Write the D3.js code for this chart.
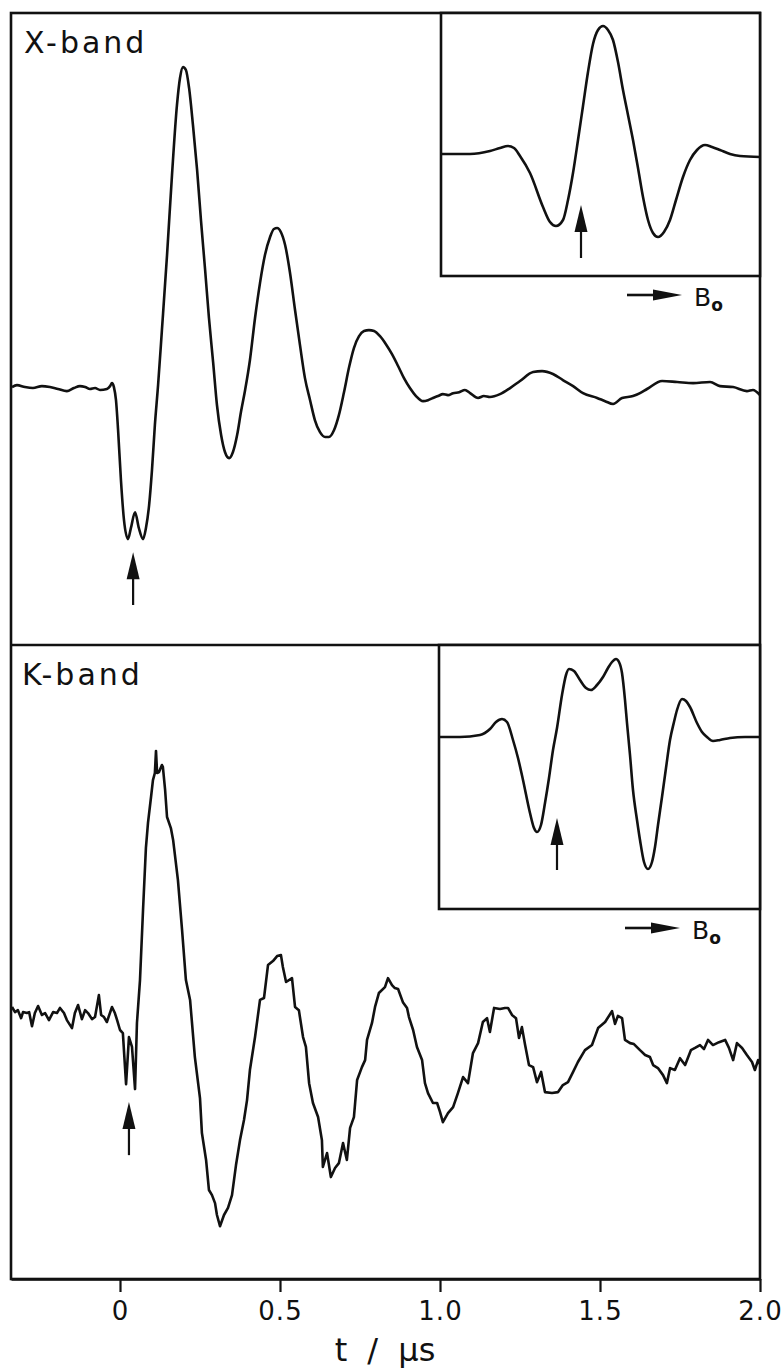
<!DOCTYPE html>
<html>
<head>
<meta charset="utf-8">
<script src="https://cdn.jsdelivr.net/npm/d3@7"></script>
<style>
  body { margin: 0; background: #fff; }
  svg { display: block; }
  text { font-family: "DejaVu Sans", sans-serif; fill: #111; }
</style>
</head>
<body>
<div id="chart"></div>
<script>
// time axis, µs
const xTicks = [0, 0.5, 1.0, 1.5, 2.0];
const panelLabels = ["X-band", "K-band"];

// echo traces [t (µs), signal (a.u.)]
const xbandTrace = [
  [-0.3375,0],[-0.322,0.006],[-0.297,0],[-0.272,-0.003],[-0.244,0.003],[-0.219,0],[-0.194,-0.006],
  [-0.166,-0.0125],[-0.144,-0.003],[-0.125,0.003],[-0.109,0],[-0.094,-0.006],[-0.078,-0.003],
  [-0.0625,-0.009],[-0.041,-0.006],[-0.031,0.003],[-0.025,0.0125],[-0.019,0],[-0.0125,-0.041],
  [-0.006,-0.134],[0.003,-0.291],[0.0125,-0.416],[0.025,-0.475],[0.034,-0.441],[0.047,-0.391],
  [0.059,-0.441],[0.072,-0.475],[0.081,-0.441],[0.091,-0.369],[0.1,-0.259],[0.109,-0.119],
  [0.119,0.006],[0.131,0.178],[0.147,0.4125],[0.1625,0.6625],[0.178,0.881],[0.1875,0.966],
  [0.197,1.0],[0.206,0.991],[0.216,0.934],[0.228,0.819],[0.241,0.678],[0.253,0.522],[0.266,0.366],
  [0.278,0.216],[0.291,0.078],[0.303,-0.056],[0.316,-0.15],[0.328,-0.203],[0.341,-0.222],
  [0.353,-0.203],[0.366,-0.15],[0.378,-0.078],[0.391,-0.009],[0.406,0.084],
  [0.422,0.216],[0.4375,0.325],[0.453,0.4125],[0.469,0.469],[0.481,0.494],[0.491,0.497],
  [0.503,0.484],[0.516,0.444],[0.531,0.359],[0.547,0.241],[0.5625,0.131],[0.578,0.028],
  [0.594,-0.041],[0.609,-0.103],[0.625,-0.141],[0.641,-0.156],[0.653,-0.156],[0.669,-0.134],
  [0.684,-0.0875],[0.7,-0.016],[0.716,0.0625],[0.731,0.122],[0.747,0.159],[0.7625,0.175],
  [0.778,0.178],[0.794,0.175],[0.8125,0.159],[0.831,0.134],[0.85,0.103],[0.869,0.066],
  [0.8875,0.028],[0.906,-0.003],[0.925,-0.028],[0.947,-0.044],[0.9625,-0.041],[0.978,-0.034],
  [0.994,-0.028],[1.009,-0.022],[1.025,-0.025],[1.041,-0.019],[1.06,-0.016],[1.078,-0.009],
  [1.094,-0.019],[1.119,-0.034],[1.137,-0.028],[1.156,-0.031],[1.1875,-0.022],[1.219,-0.003],
  [1.25,0.019],[1.291,0.047],[1.319,0.05],[1.353,0.041],[1.384,0.022],[1.416,0.003],[1.447,-0.019],
  [1.491,-0.034],[1.516,-0.044],[1.541,-0.053],[1.569,-0.034],[1.603,-0.028],[1.625,-0.019],
  [1.647,-0.006],[1.694,0.019],[1.741,0.016],[1.791,0.0125],[1.844,0.016],[1.875,0.003],
  [1.916,0],[1.959,-0.0125],[1.978,-0.009],[2.0,-0.025]
];

const kbandTrace = [
  [-0.3375,0.019],[-0.328,0.003],[-0.319,0.009],[-0.309,-0.016],[-0.303,0.003],[-0.291,0],[-0.284,0.003],
  [-0.275,-0.041],[-0.266,0],[-0.256,0.022],[-0.244,-0.006],[-0.234,0],[-0.222,-0.022],[-0.209,0.003],
  [-0.197,0],[-0.1875,0.016],[-0.175,0],[-0.166,-0.022],[-0.15,-0.047],[-0.141,0],[-0.131,0.025],
  [-0.119,-0.019],[-0.109,0.009],[-0.1,0],[-0.0875,-0.019],[-0.078,-0.0125],[-0.066,0.056],
  [-0.059,-0.006],[-0.05,-0.0125],[-0.041,-0.028],[-0.025,0.019],[-0.016,0],[-0.009,-0.022],
  [0,-0.053],[0.009,-0.0625],[0.019,-0.222],[0.028,-0.075],[0.0375,-0.106],[0.047,-0.2375],
  [0.053,-0.031],[0.0625,0.103],[0.072,0.322],[0.081,0.516],[0.0875,0.594],[0.097,0.675],
  [0.103,0.728],[0.109,0.75],[0.1125,0.819],[0.116,0.75],[0.122,0.753],[0.131,0.775],[0.134,0.769],
  [0.141,0.697],[0.147,0.6125],[0.159,0.578],[0.166,0.541],[0.169,0.516],[0.181,0.416],[0.194,0.259],
  [0.206,0.103],[0.219,0.041],[0.234,-0.1375],[0.25,-0.266],[0.256,-0.375],[0.269,-0.459],
  [0.278,-0.553],[0.2875,-0.569],[0.297,-0.594],[0.303,-0.631],[0.3125,-0.666],[0.325,-0.631],
  [0.3375,-0.609],[0.35,-0.569],[0.3625,-0.475],[0.375,-0.397],[0.3875,-0.334],[0.397,-0.272],
  [0.406,-0.178],[0.422,-0.075],[0.4375,0.041],[0.45,0.047],[0.4625,0.15],[0.478,0.1625],
  [0.491,0.178],[0.503,0.181],[0.509,0.144],[0.519,0.097],[0.5375,0.109],[0.547,0.019],
  [0.559,0.009],[0.572,-0.075],[0.581,-0.106],[0.591,-0.219],[0.603,-0.281],[0.619,-0.325],
  [0.631,-0.397],[0.634,-0.481],[0.647,-0.4375],[0.659,-0.5125],[0.672,-0.484],[0.684,-0.469],
  [0.697,-0.406],[0.709,-0.459],[0.719,-0.359],[0.731,-0.325],[0.741,-0.209],[0.756,-0.169],
  [0.766,-0.147],[0.772,-0.084],[0.7875,-0.031],[0.797,0.019],[0.809,0.0625],[0.828,0.081],
  [0.8375,0.109],[0.85,0.0875],[0.859,0.078],[0.869,0.075],[0.884,0.034],[0.897,0.016],
  [0.903,-0.0125],[0.916,-0.053],[0.928,-0.106],[0.944,-0.147],[0.953,-0.219],[0.9625,-0.25],
  [0.978,-0.281],[0.991,-0.281],[1.0,-0.309],[1.009,-0.341],[1.025,-0.3125],[1.041,-0.294],
  [1.056,-0.25],[1.072,-0.2],[1.0875,-0.219],[1.103,-0.125],[1.119,-0.094],[1.134,-0.028],
  [1.147,-0.016],[1.156,-0.059],[1.169,0.016],[1.1875,0.0125],[1.203,0.016],[1.2125,0.016],
  [1.225,-0.006],[1.2375,-0.016],[1.247,-0.078],[1.256,-0.044],[1.266,-0.1],[1.278,-0.1625],
  [1.291,-0.169],[1.303,-0.216],[1.316,-0.184],[1.328,-0.247],[1.35,-0.25],[1.369,-0.247],
  [1.384,-0.225],[1.4,-0.216],[1.416,-0.184],[1.431,-0.153],[1.453,-0.116],[1.475,-0.1],
  [1.494,-0.047],[1.516,-0.028],[1.5375,0.006],[1.547,-0.034],[1.556,-0.009],[1.569,-0.016],
  [1.578,-0.084],[1.594,-0.094],[1.606,-0.097],[1.625,-0.116],[1.641,-0.131],[1.656,-0.1375],
  [1.666,-0.1625],[1.681,-0.172],[1.697,-0.194],[1.709,-0.219],[1.719,-0.172],[1.734,-0.178],
  [1.75,-0.141],[1.766,-0.1625],[1.784,-0.116],[1.797,-0.109],[1.8125,-0.1],[1.825,-0.1125],
  [1.8375,-0.084],[1.853,-0.1],[1.872,-0.091],[1.891,-0.084],[1.903,-0.109],[1.916,-0.147],
  [1.928,-0.094],[1.944,-0.109],[1.959,-0.131],[1.975,-0.153],[1.984,-0.178],[1.994,-0.147],[2.0,-0.16]
];

// field-swept spectra in the insets [field (a.u.), signal (a.u.)]
const xbandSpectrum = [
  [0.5,0],[14.5,0],[24.5,1.5],[29.5,3],[33.5,4],[36.5,3],[39.5,-1],[44.5,-9.5],[51,-26.5],[54.5,-34],
  [57.5,-36],[61,-33],[63.5,-23],[66,-9.5],[68.5,7],[71,24],[73.5,41],[76,55],[78.5,62],[81,64],
  [83.5,62],[86,57],[88.5,46],[91,32],[93.5,19.5],[96,7],[98.5,-7],[101,-21.5],[103.5,-33],[106,-39.5],
  [108.5,-41.5],[111.5,-39],[114.5,-33],[117.5,-23],[121,-11.5],[124.5,-3],[128,2],[132,4.5],
  [135.5,3.5],[139.5,2],[144.5,0],[149.5,-1],[159.5,-1.5]
];

const kbandSpectrum = [
  [0,0],[10.5,0],[20.5,1],[25.5,4],[28.5,7.5],[31.5,9],[34,7.5],[37,-1.5],[39.5,-10.5],[42,-21.5],
  [45.5,-38],[47.5,-45.5],[49,-47.5],[51,-44],[53,-33],[55,-20.5],[57,-6.5],[59,4.5],[61.5,21],
  [63.5,31],[65,34],[67.5,33],[70.5,28.5],[73.5,24.5],[76,23.5],[79,26],[82,30],[84.5,34.5],
  [86.5,37.5],[88.5,39],[90,37.5],[91.5,32],[93,18.5],[94,7],[95.5,-9],[97,-26.5],[99,-41.5],
  [100.5,-51.5],[102.5,-62.5],[104.5,-66],[106.5,-62.5],[108,-55],[109.5,-44],[111.5,-30],
  [113.5,-15.5],[115.5,-1.5],[117.5,7.5],[119,13.5],[121.5,19],[123.5,18],[125.5,15],[129,7],
  [131.5,2.5],[134,0],[137,-2],[140.5,-1.5],[145.5,-0.5],[153,0],[160.5,0]
];

// arrow markers: position, arrow tip, arrow tail
const xbandMarker = { at: 0.041, tip: -0.516, tail: -0.681 };
const kbandMarker = { at: 0.028, tip: -0.278, tail: -0.444 };
const xbandSpecMarker = { at: 70, tip: -25.5, tail: -52 };
const kbandSpecMarker = { at: 59, tip: -40.5, tail: -66.5 };

const W = 784, H = 1369;
const ink = "#111";
const lineW = 2.6;
const frame = { left: 11, right: 760, top: 13, mid: 645, bottom: 1279 };
const insetX = { left: 441, right: 760, top: 13, bottom: 276 };
const insetK = { left: 439, right: 760, top: 645, bottom: 909 };

const svg = d3.select("#chart").append("svg")
  .attr("width", W).attr("height", H);
svg.append("rect").attr("width", W).attr("height", H).attr("fill", "#fff");

const x = d3.scaleLinear().domain([-0.3406, 2.0]).range([frame.left, frame.right]);
const yX = d3.scaleLinear().domain([-0.806, 1.169]).range([frame.mid, frame.top]);
const yK = d3.scaleLinear().domain([-0.831, 1.15]).range([frame.bottom, frame.mid]);

const uX = d3.scaleLinear().domain([0, 159.5]).range([insetX.left, insetX.right]);
const wX = d3.scaleLinear().domain([-61, 70.5]).range([insetX.bottom, insetX.top]);
const uK = d3.scaleLinear().domain([0, 160.5]).range([insetK.left, insetK.right]);
const wK = d3.scaleLinear().domain([-86, 46]).range([insetK.bottom, insetK.top]);

function drawTrace(data, sx, sy, curve) {
  const line = d3.line().x(d => sx(d[0])).y(d => sy(d[1])).curve(curve);
  svg.append("path").datum(data)
    .attr("d", line)
    .attr("fill", "none")
    .attr("stroke", ink)
    .attr("stroke-width", lineW)
    .attr("stroke-linejoin", "round");
}

function upArrow(cx, yTip, yTail) {
  const headLen = 27, headW = 6.5;
  svg.append("line")
    .attr("x1", cx).attr("x2", cx)
    .attr("y1", yTail).attr("y2", yTip + headLen - 2)
    .attr("stroke", ink).attr("stroke-width", 2.2);
  svg.append("path")
    .attr("d", `M${cx},${yTip} L${cx - headW},${yTip + headLen} L${cx + headW},${yTip + headLen} Z`)
    .attr("fill", ink);
}

function fieldLabel(box) {
  const y = box.bottom + 19;
  const x0 = box.left + 186, x1 = box.left + 241;
  svg.append("line").attr("x1", x0).attr("x2", x1 - 24).attr("y1", y).attr("y2", y)
    .attr("stroke", ink).attr("stroke-width", 2.6);
  svg.append("path")
    .attr("d", `M${x1},${y} L${x1 - 29},${y - 5.5} L${x1 - 29},${y + 5.5} Z`)
    .attr("fill", ink);
  const t = svg.append("text")
    .attr("x", box.left + 253).attr("y", box.bottom + 30)
    .attr("font-size", 25);
  t.append("tspan").text("B");
  t.append("tspan").attr("font-size", 17).attr("dy", 5).attr("font-weight", "bold").text("o");
}

// main traces
drawTrace(xbandTrace, x, yX, d3.curveMonotoneX);
drawTrace(kbandTrace, x, yK, d3.curveLinear);

// outer frame and divider
svg.append("rect")
  .attr("x", frame.left).attr("y", frame.top)
  .attr("width", frame.right - frame.left).attr("height", frame.bottom - frame.top)
  .attr("fill", "none").attr("stroke", ink).attr("stroke-width", lineW);
svg.append("line")
  .attr("x1", frame.left).attr("x2", frame.right)
  .attr("y1", frame.mid).attr("y2", frame.mid)
  .attr("stroke", ink).attr("stroke-width", lineW);

// insets
[insetX, insetK].forEach(b => {
  svg.append("rect")
    .attr("x", b.left).attr("y", b.top)
    .attr("width", b.right - b.left).attr("height", b.bottom - b.top)
    .attr("fill", "#fff").attr("stroke", ink).attr("stroke-width", lineW);
  fieldLabel(b);
});
drawTrace(xbandSpectrum, uX, wX, d3.curveMonotoneX);
drawTrace(kbandSpectrum, uK, wK, d3.curveMonotoneX);

// arrows
upArrow(x(xbandMarker.at), yX(xbandMarker.tip), yX(xbandMarker.tail));
upArrow(x(kbandMarker.at), yK(kbandMarker.tip), yK(kbandMarker.tail));
upArrow(uX(xbandSpecMarker.at), wX(xbandSpecMarker.tip), wX(xbandSpecMarker.tail));
upArrow(uK(kbandSpecMarker.at), wK(kbandSpecMarker.tip), wK(kbandSpecMarker.tail));

// panel labels
svg.selectAll("text.panel").data(panelLabels).enter().append("text")
  .attr("class", "panel")
  .attr("x", (d, i) => i === 0 ? 24 : 22)
  .attr("y", (d, i) => (i === 0 ? frame.top : frame.mid) + 40)
  .attr("font-size", 30)
  .attr("letter-spacing", 3)
  .text(d => d);

// time axis
const axis = d3.axisBottom(x)
  .tickValues(xTicks)
  .tickFormat(d => d === 0 ? "0" : d.toFixed(1))
  .tickSize(13)
  .tickSizeOuter(0)
  .tickPadding(10);
const gAxis = svg.append("g")
  .attr("transform", `translate(0,${frame.bottom})`)
  .call(axis);
gAxis.select(".domain").attr("stroke", ink).attr("stroke-width", lineW);
gAxis.selectAll(".tick line").attr("stroke", ink).attr("stroke-width", 2.2);
gAxis.selectAll(".tick text")
  .attr("fill", ink)
  .attr("font-size", 26)
  .attr("font-family", "DejaVu Sans, sans-serif")
  .attr("letter-spacing", 1);

svg.append("text")
  .attr("x", (x(0) + x(2)) / 2 - 55)
  .attr("y", 1361)
  .attr("font-size", 32)
  .attr("text-anchor", "middle")
  .attr("word-spacing", 10)
  .text("t / µs");
</script>
</body>
</html>
